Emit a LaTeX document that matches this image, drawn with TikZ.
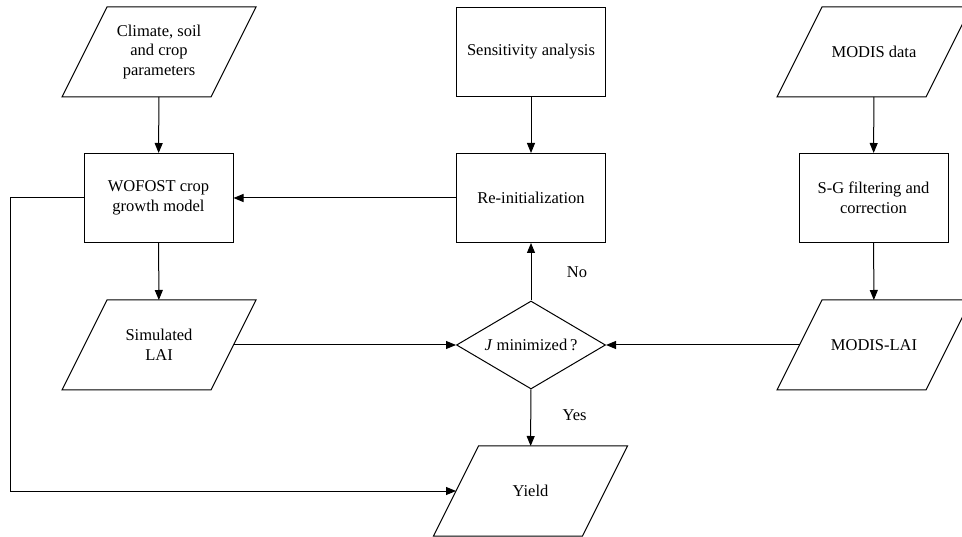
\documentclass[tikz,border=0pt]{standalone}
\usepackage{fontspec}
\setmainfont{Liberation Serif}
\usetikzlibrary{arrows.meta, positioning, shapes.geometric}
\tikzset{
  >=latex,  % frecce piene
  % Blocchi del diagramma
  box/.style={draw,line width=1pt,rectangle,minimum width=149pt,minimum height=89pt,
    inner sep=2pt,align=center,font=\fontsize{16.5}{19.8}\selectfont},
  % parallelogramma disegnato attorno a un rettangolo invisibile
  data/.style={box,draw=none,outer sep=0pt,minimum height=90pt,
    append after command={
      \pgfextra{\draw[line width=1pt]
      ([xshift=22.5pt]\tikzlastnode.north west) -- ([xshift=22.5pt]\tikzlastnode.north east)
      -- ([xshift=-22.5pt]\tikzlastnode.south east) -- ([xshift=-22.5pt]\tikzlastnode.south west)
      -- cycle;}}},
  test/.style={box,diamond,aspect=1.7,minimum width=149pt,minimum height=88pt,inner sep=0pt},
  % Connessioni
  connect arrow/.style={-{Triangle[length=10pt,width=8pt]},line width=1pt},
  tag/.style={font=\fontsize{16.5}{19.8}\selectfont}
}
\begin{document}
\begin{tikzpicture}[x=1pt,y=-1pt]
    \useasboundingbox (0,0) rectangle (962,537);
    \node[data] (clim) at (159,52) {Climate, soil\\and crop\\parameters};
    \node[box] (sens) at (531,52) {Sensitivity analysis};
    \node[data] (modis) at (874,52) {MODIS data};
    \node[box] (wofost) at (158.5,198) {WOFOST crop\\growth model};
    \node[box] (reinit) at (531,198) {Re-initialization};
    \node[box] (sg) at (873.5,198) {S-G filtering and\\correction};
    \node[data] (sim) at (159,345) {Simulated\\LAI};
    \node[test] (dec) at (531,345) {\textit{J} minimized\,?};
    \node[data] (mlai) at (874,345) {MODIS-LAI};
    \node[data] (yield) at (530.5,491) {Yield};
    \coordinate (corner) at (10,491);
    \draw[connect arrow] (clim) -- (wofost);
    \draw[connect arrow] (sens) -- (reinit);
    \draw[connect arrow] (modis) -- (sg);
    \draw[connect arrow] (reinit) -- (wofost);
    \draw[connect arrow] (wofost) -- (sim);
    \draw[connect arrow] (sg) -- (mlai);
    \draw[connect arrow] (sim) -- (dec);
    \draw[connect arrow] (mlai) -- (dec);
    \draw[connect arrow] (dec) -- node[tag,right=32pt,pos=0.5]{No} (reinit);
    \draw[connect arrow] (dec) -- node[tag,right=28pt,pos=0.45]{Yes} (yield);
    \draw[connect arrow] (wofost.west) -| (corner) -- (yield);
\end{tikzpicture}
\end{document}
